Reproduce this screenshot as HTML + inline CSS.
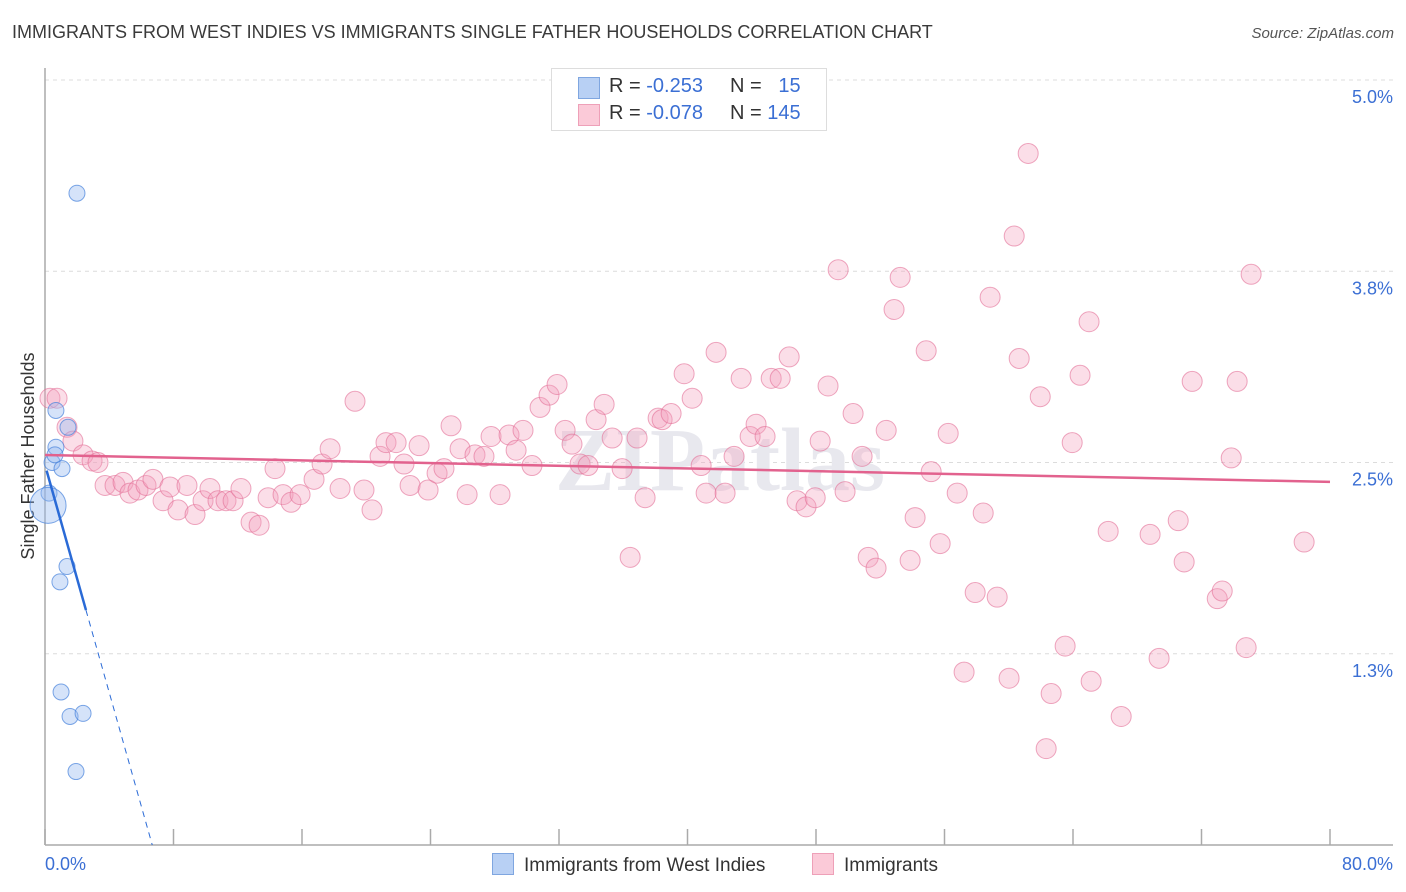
<!DOCTYPE html>
<html><head><meta charset="utf-8">
<style>
body{margin:0;background:#fff;font-family:"Liberation Sans",sans-serif;}
#wrap{position:relative;width:1406px;height:892px;overflow:hidden;}
.t{position:absolute;white-space:nowrap;}
</style></head>
<body>
<div id="wrap">
<div class="t" style="left:12px;top:22px;font-size:18px;color:#3a3a3a;">IMMIGRANTS FROM WEST INDIES VS IMMIGRANTS SINGLE FATHER HOUSEHOLDS CORRELATION CHART</div>
<div class="t" style="right:12px;top:25px;font-size:15px;color:#555;font-style:italic;">Source: ZipAtlas.com</div>
<svg id="chart" width="1406" height="892" style="position:absolute;left:0;top:0;" xmlns="http://www.w3.org/2000/svg"></svg>
</div>
<script>
const yTicks=[5.0,3.75,2.5,1.25];
const yTickLabels=["5.0%","3.8%","2.5%","1.3%"];
const xTickLabels=["0.0%","80.0%"];
const pinkX=[0.31,0.75,1.37,1.74,2.37,2.93,3.30,3.74,4.36,4.86,5.29,5.79,6.29,6.72,7.35,7.78,8.28,8.84,9.34,9.84,10.27,10.77,11.27,11.71,12.20,12.83,13.33,13.89,14.32,14.82,15.32,15.88,16.75,17.25,17.75,18.37,19.30,19.86,20.36,20.86,21.23,21.86,22.35,22.73,23.29,23.85,24.41,24.84,25.28,25.84,26.28,26.77,27.33,27.77,28.33,28.89,29.33,29.76,30.32,30.82,31.38,31.88,32.38,32.81,33.31,33.81,34.31,34.81,35.31,35.93,36.43,36.86,37.36,38.17,38.42,38.98,39.79,40.29,40.85,41.16,41.78,42.34,42.90,43.34,43.90,44.27,44.83,45.21,45.77,46.33,46.82,47.38,47.95,48.26,48.75,49.38,49.81,50.31,50.87,51.25,51.74,52.37,52.86,53.24,53.86,54.17,54.86,55.17,55.73,56.23,56.79,57.22,57.91,58.41,58.84,59.28,60.02,60.34,60.65,61.21,61.96,62.33,62.64,63.51,63.95,64.44,65.00,65.13,66.19,67.00,68.80,69.36,70.55,70.92,71.42,72.98,73.29,73.85,74.22,74.78,75.09,78.39];
const pinkY=[2.92,2.92,2.73,2.64,2.55,2.51,2.50,2.35,2.35,2.37,2.30,2.32,2.35,2.39,2.25,2.34,2.19,2.35,2.16,2.25,2.33,2.25,2.25,2.25,2.33,2.11,2.09,2.27,2.46,2.29,2.24,2.29,2.39,2.49,2.59,2.33,2.90,2.32,2.19,2.54,2.63,2.63,2.49,2.35,2.61,2.32,2.43,2.46,2.74,2.59,2.29,2.55,2.54,2.67,2.29,2.68,2.58,2.71,2.48,2.86,2.94,3.01,2.71,2.62,2.49,2.48,2.78,2.88,2.66,2.46,1.88,2.66,2.27,2.79,2.78,2.82,3.08,2.92,2.48,2.30,3.22,2.30,2.54,3.05,2.67,2.75,2.67,3.05,3.05,3.19,2.25,2.21,2.27,2.64,3.00,3.76,2.31,2.82,2.54,1.88,1.81,2.71,3.50,3.71,1.86,2.14,3.23,2.44,1.97,2.69,2.30,1.13,1.65,2.17,3.58,1.62,1.09,3.98,3.18,4.52,2.93,0.63,0.99,1.30,2.63,3.07,3.42,1.07,2.05,0.84,2.03,1.22,2.12,1.85,3.03,1.61,1.66,2.53,3.03,1.29,3.73,1.98];
const blueX=[1.99,0.68,1.43,0.68,0.44,1.06,0.25,0.19,1.37,0.93,1.00,1.56,2.37,1.93,0.62];
const blueY=[4.26,2.84,2.73,2.60,2.50,2.46,2.30,2.22,1.82,1.72,1.00,0.84,0.86,0.48,2.55];
const blueR=[8,8,8,8,8,8,8,18,8,8,8,8,8,8,8];
const pinkTrend=[2.549,-0.0022];
const blueTrend=[2.484,-0.372];

const NS="http://www.w3.org/2000/svg";
const svg=document.getElementById('chart');
const X0=45,X1=1330,Y0=845,PXV=153;
function sx(v){return X0+v*(X1-X0)/80;}
function sy(v){return Y0-v*PXV;}
function mk(tag,attrs){const e=document.createElementNS(NS,tag);for(const k in attrs)e.setAttribute(k,attrs[k]);svg.appendChild(e);return e;}

yTicks.forEach((v,i)=>{
  const g=mk('line',{x1:X0,x2:1393,y1:sy(v),y2:sy(v),stroke:'#dcdcdc','stroke-dasharray':'4,4'});
  
  
  const t=mk('text',{x:1393,y:sy(v)+23,'text-anchor':'end','font-size':18,fill:'#3b6fd4','font-family':'Liberation Sans'});
  t.textContent=yTickLabels[i];
  
  
});
const ya=mk('line',{x1:X0,x2:X0,y1:68,y2:Y0,stroke:'#aaa','stroke-width':1.5});


const xa=mk('line',{x1:X0,x2:1393,y1:Y0,y2:Y0,stroke:'#aaa','stroke-width':1.5});


for(let i=0;i<=10;i++){
  const tk=mk('line',{x1:sx(i*8),x2:sx(i*8),y1:Y0,y2:Y0-16,stroke:'#aaa','stroke-width':1.5});
  
  
}
[[0,'start',45],[80,'end',1393]].forEach((a,i)=>{
  const t=mk('text',{x:a[2],y:870,'text-anchor':a[1],'font-size':18,fill:'#3b6fd4','font-family':'Liberation Sans'});
  t.textContent=xTickLabels[i];
  
  
});
const yt=mk('text',{x:0,y:0,transform:'translate(34,456) rotate(-90)','text-anchor':'middle','font-size':18,fill:'#333','font-family':'Liberation Sans'});
yt.textContent='Single Father Households';


const wm=mk('text',{x:720,y:490,'text-anchor':'middle','font-size':90,fill:'#e8e8ee','font-family':'Liberation Serif','font-weight':'bold'});
wm.textContent='ZIPatlas';



pinkX.forEach((v,i)=>{
  const c=mk('circle',{cx:sx(v),cy:sy(pinkY[i]),r:10,fill:'rgba(244,160,188,0.35)',stroke:'rgba(226,110,150,0.6)','stroke-width':1});
  
  
});
blueX.forEach((v,i)=>{
  const c=mk('circle',{cx:sx(v),cy:sy(blueY[i]),r:blueR[i],fill:'rgba(150,185,240,0.4)',stroke:'rgba(70,130,220,0.7)','stroke-width':1});
  
  
});
const pl=mk('line',{x1:sx(0),y1:sy(pinkTrend[0]),x2:sx(80),y2:sy(pinkTrend[0]+pinkTrend[1]*80),stroke:'#e2628e','stroke-width':2.5});


const bEnd=2.55, bZero=-blueTrend[0]/blueTrend[1];
const bl=mk('line',{x1:sx(0.1),y1:sy(blueTrend[0]+blueTrend[1]*0.1),x2:sx(bEnd),y2:sy(blueTrend[0]+blueTrend[1]*bEnd),stroke:'#2a6ad6','stroke-width':2.5});


const bd=mk('line',{x1:sx(bEnd),y1:sy(blueTrend[0]+blueTrend[1]*bEnd),x2:sx(bZero),y2:sy(0),stroke:'#2a6ad6','stroke-width':1,'stroke-dasharray':'6,5'});


</script>
<div class="t" style="left:551px;top:68px;width:274px;height:61px;border:1px solid #ddd;background:#fff;font-size:20px;">
  <div style="position:absolute;left:26px;top:8px;width:20px;height:20px;background:#b8d0f4;border:1px solid #7fa6e0;"></div>
  <div class="t" style="left:57px;top:6px;color:#333;">R = <span style="color:#3b6fd4">-0.253</span></div>
  <div class="t" style="left:178px;top:6px;color:#333;">N = <span style="color:#3b6fd4">&nbsp;&nbsp;15</span></div>
  <div style="position:absolute;left:26px;top:35px;width:20px;height:20px;background:#fbcad8;border:1px solid #eea0b8;"></div>
  <div class="t" style="left:57px;top:33px;color:#333;">R = <span style="color:#3b6fd4">-0.078</span></div>
  <div class="t" style="left:178px;top:33px;color:#333;">N = <span style="color:#3b6fd4">145</span></div>
</div>
<div class="t" style="left:492px;top:853px;font-size:19px;color:#333;">
  <span style="display:inline-block;width:20px;height:20px;background:#b8d0f4;border:1px solid #7fa6e0;vertical-align:-4px;margin-right:10px;"></span>Immigrants from West Indies</div>
<div class="t" style="left:812px;top:853px;font-size:19px;color:#333;">
  <span style="display:inline-block;width:20px;height:20px;background:#fbcad8;border:1px solid #eea0b8;vertical-align:-4px;margin-right:10px;"></span>Immigrants</div>
</body></html>
